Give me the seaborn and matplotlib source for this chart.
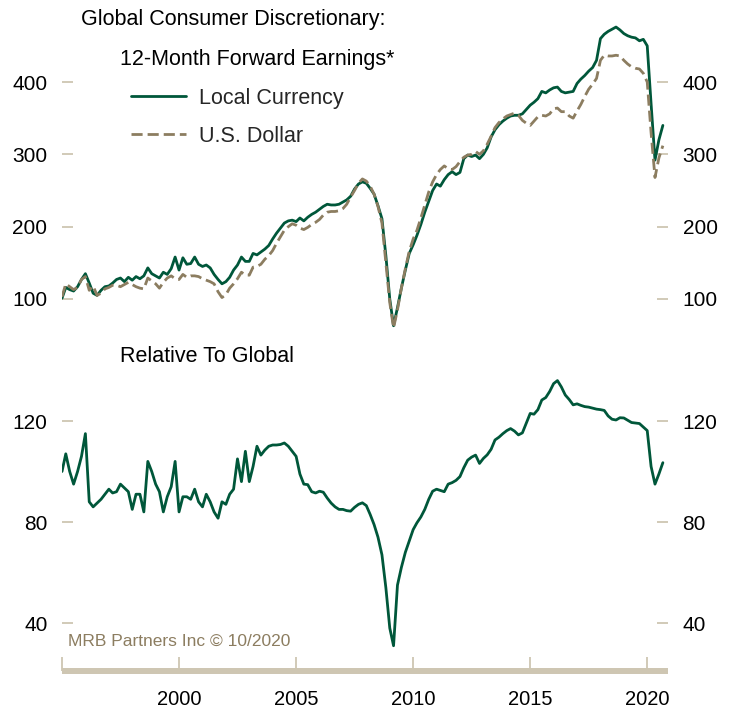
import pandas as pd
import matplotlib
matplotlib.use('Agg')
import matplotlib.pyplot as plt
from matplotlib.lines import Line2D
import seaborn as sns

# 两个月一个点, 1995-01 到 2020-09
local_ccy = [101, 116, 113, 111, 117, 127, 135, 122, 108, 105,
             112, 117, 118, 122, 127, 129, 124, 130, 126, 131,
             128, 132, 143, 135, 132, 129, 137, 134, 142, 158,
             140, 157, 148, 149, 158, 148, 145, 147, 143, 134,
             127, 121, 124, 130, 140, 147, 158, 152, 152, 163,
             161, 165, 169,
             174, 183, 191, 198, 205, 208, 209, 207, 212, 208,
             213, 217, 220, 224, 228, 231, 230, 230, 231, 234,
             237, 242, 252, 259, 262, 260, 253, 245, 229, 211,
             160, 100, 63, 88, 115, 140, 163, 175, 188, 203,
             220, 235, 250, 259, 256, 265, 272, 276, 272, 275,
             294, 299,
             297, 299, 294, 300, 309, 324, 334, 341, 346, 350,
             353, 354, 354, 356, 362, 368, 372, 377, 387, 385,
             389, 392, 393, 387, 385, 386, 387, 398, 404, 409,
             415, 420, 430, 460, 466, 470, 473, 476, 472, 467,
             464, 462, 461, 457, 459, 450, 370, 292, 320, 340]

us_dollar = [103, 121, 117, 113, 116, 127, 131, 112, 118, 105,
             108, 114, 116, 119, 119, 117, 120, 123, 120, 117,
             115, 114, 129, 125, 121, 115, 123, 129, 132, 128,
             127, 134, 130, 132, 132, 131, 128, 126, 124, 121,
             110, 102, 106, 115, 121, 128, 137, 133, 133, 144,
             145, 148, 155,
             160, 167, 177, 186, 195, 200, 204, 202, 198, 196,
             199, 203, 206, 210, 216, 220, 221, 221, 222, 225,
             231, 241, 250, 260, 266, 263, 256, 245, 228, 205,
             150, 95, 60, 85, 115, 142, 166, 183, 195, 212,
             230, 248, 262, 272, 279, 284, 280, 279, 283, 290,
             296, 299,
             300, 304, 300, 305, 314, 325, 337, 344, 349, 353,
             355, 357, 354, 347, 343, 340, 346, 352, 354, 353,
             356, 363, 364, 359, 359, 353, 350, 360, 369, 380,
             390, 397, 405, 430, 437, 436, 436, 437, 436, 430,
             425, 421, 419, 418, 412, 400, 330, 268, 295, 312]

relative = [100, 107, 100, 95, 100, 106, 115, 88, 86, 87.5,
            89, 91, 93, 91.5, 92, 95, 93.5, 92, 85, 91,
            91, 84, 104, 100, 95, 92, 84, 90, 94, 104,
            84, 90, 90, 89, 93, 88, 86, 91, 88, 84,
            81.5, 88, 87, 91, 93, 105, 96, 108, 96, 102,
            110, 106.5, 108.5,
            110, 110.5, 110.5, 110.7, 111.3, 110, 108, 106, 99, 95,
            94.8, 92, 91.5, 92.2, 91.8, 89.5, 87.5, 86, 85, 85,
            84.5, 84.3, 85.8, 87, 87.6, 86.5, 83, 79, 74, 67,
            54, 38, 31, 55, 62, 68, 72.5, 77, 79.7, 82,
            85, 89, 92.2, 93, 92.5, 92, 95, 95.6, 96.5, 98,
            101.5, 104.5,
            105.7, 106.5, 103.2, 105.2, 106.6, 108.8, 112.5, 113.6, 115, 116.2,
            117, 116, 114.5, 115.3, 119.2, 123, 122.7, 124.5, 128.3, 129.3,
            131.7, 134.8, 136, 133.5, 130.3, 128.5, 126.4, 126.8, 126.2, 125.7,
            125.5, 125.1, 124.7, 124.5, 124.2, 122, 120.7, 120.4, 121.3, 121.2,
            120.3, 119.4, 119.2, 119, 117.6, 116.2, 102, 95, 99, 103.5]

series_names = ['Local Currency', 'U.S. Dollar']
top_ticks = [100, 200, 300, 400]
bottom_ticks = [40, 80, 120]
year_ticks = [1995, 2000, 2005, 2010, 2015, 2020]

dates = pd.date_range('1995-01-01', periods=len(local_ccy), freq='2MS')
n = len(dates)

green = '#00573A'
tan = '#8C7D60'
light = '#CEC6B2'

sns.set_theme(style='white')
plt.rcParams['font.family'] = ['Liberation Sans', 'DejaVu Sans']

W, H = 732, 711
fig = plt.figure(figsize=(W / 100, H / 100), dpi=100)


def box(l, t, r, b):
    return [l / W, 1 - b / H, (r - l) / W, (b - t) / H]


ax1 = fig.add_axes(box(62, 12, 668, 345))
ax2 = fig.add_axes(box(62, 370, 668, 671))

df = pd.DataFrame({
    'date': list(dates) * 2,
    'value': local_ccy + us_dollar,
    'series': [series_names[0]] * n + [series_names[1]] * n,
})
sns.lineplot(data=df, x='date', y='value', hue='series', style='series',
             palette={series_names[0]: green, series_names[1]: tan},
             dashes={series_names[0]: '', series_names[1]: (4, 1.8)},
             linewidth=2.0, ax=ax1, legend=False)

sns.lineplot(x=dates, y=relative, color=green, linewidth=2.0, ax=ax2)

xmin = pd.Timestamp('1995-01-01')
xmax = pd.Timestamp('2020-11-20')

for ax in (ax1, ax2):
    ax.set_xlim(xmin, xmax)
    ax.set_xlabel('')
    ax.set_ylabel('')
    ax.set_facecolor('none')
    for s in ax.spines.values():
        s.set_visible(False)
    ax.tick_params(axis='y', direction='in', length=8, width=1.3, color=light,
                   left=True, right=True, labelleft=True, labelright=True,
                   labelsize=15, labelcolor='black', pad=10.5)

ax1.set_ylim(36.4, 496.8)
ax1.set_yticks(top_ticks)
ax1.set_xticks([])

ax2.set_ylim(21.0, 140.2)
ax2.set_yticks(bottom_ticks)
ax2.set_xticks([pd.Timestamp(f'{y}-01-01') for y in year_ticks])
ax2.set_xticklabels([''] + [str(y) for y in year_ticks[1:]])
ax2.spines['bottom'].set_visible(True)
ax2.spines['bottom'].set_color(light)
ax2.spines['bottom'].set_linewidth(4.3)
ax2.spines['bottom'].set_capstyle('butt')
ax2.tick_params(axis='x', direction='in', length=10, width=1.3, color=light,
                bottom=True, labelsize=14.5, labelcolor='black', pad=14)

# 图例
handles = [Line2D([], [], color=green, lw=2.0),
           Line2D([], [], color=tan, lw=2.0, dashes=(4, 1.8))]
ax1.legend(handles, series_names, loc='upper left',
           bbox_to_anchor=(131 / W, 1 - 88 / H), bbox_transform=fig.transFigure,
           frameon=False, fontsize=15.5, handlelength=2.55, handletextpad=0.62,
           labelspacing=0.78, borderpad=0, borderaxespad=0)

fig.text(81 / W, 1 - 19 / H, 'Global Consumer Discretionary:', fontsize=15.5,
         va='center', ha='left', color='black')
fig.text(120 / W, 1 - 60 / H, '12-Month Forward Earnings*', fontsize=15.5,
         va='center', ha='left', color='black')
fig.text(120 / W, 1 - 357 / H, 'Relative To Global', fontsize=15.5,
         va='center', ha='left', color='black')
fig.text(68 / W, 1 - 641 / H, 'MRB Partners Inc \u00a9 10/2020', fontsize=12.5,
         va='center', ha='left', color=tan)

fig.savefig('out.png', dpi=100)
